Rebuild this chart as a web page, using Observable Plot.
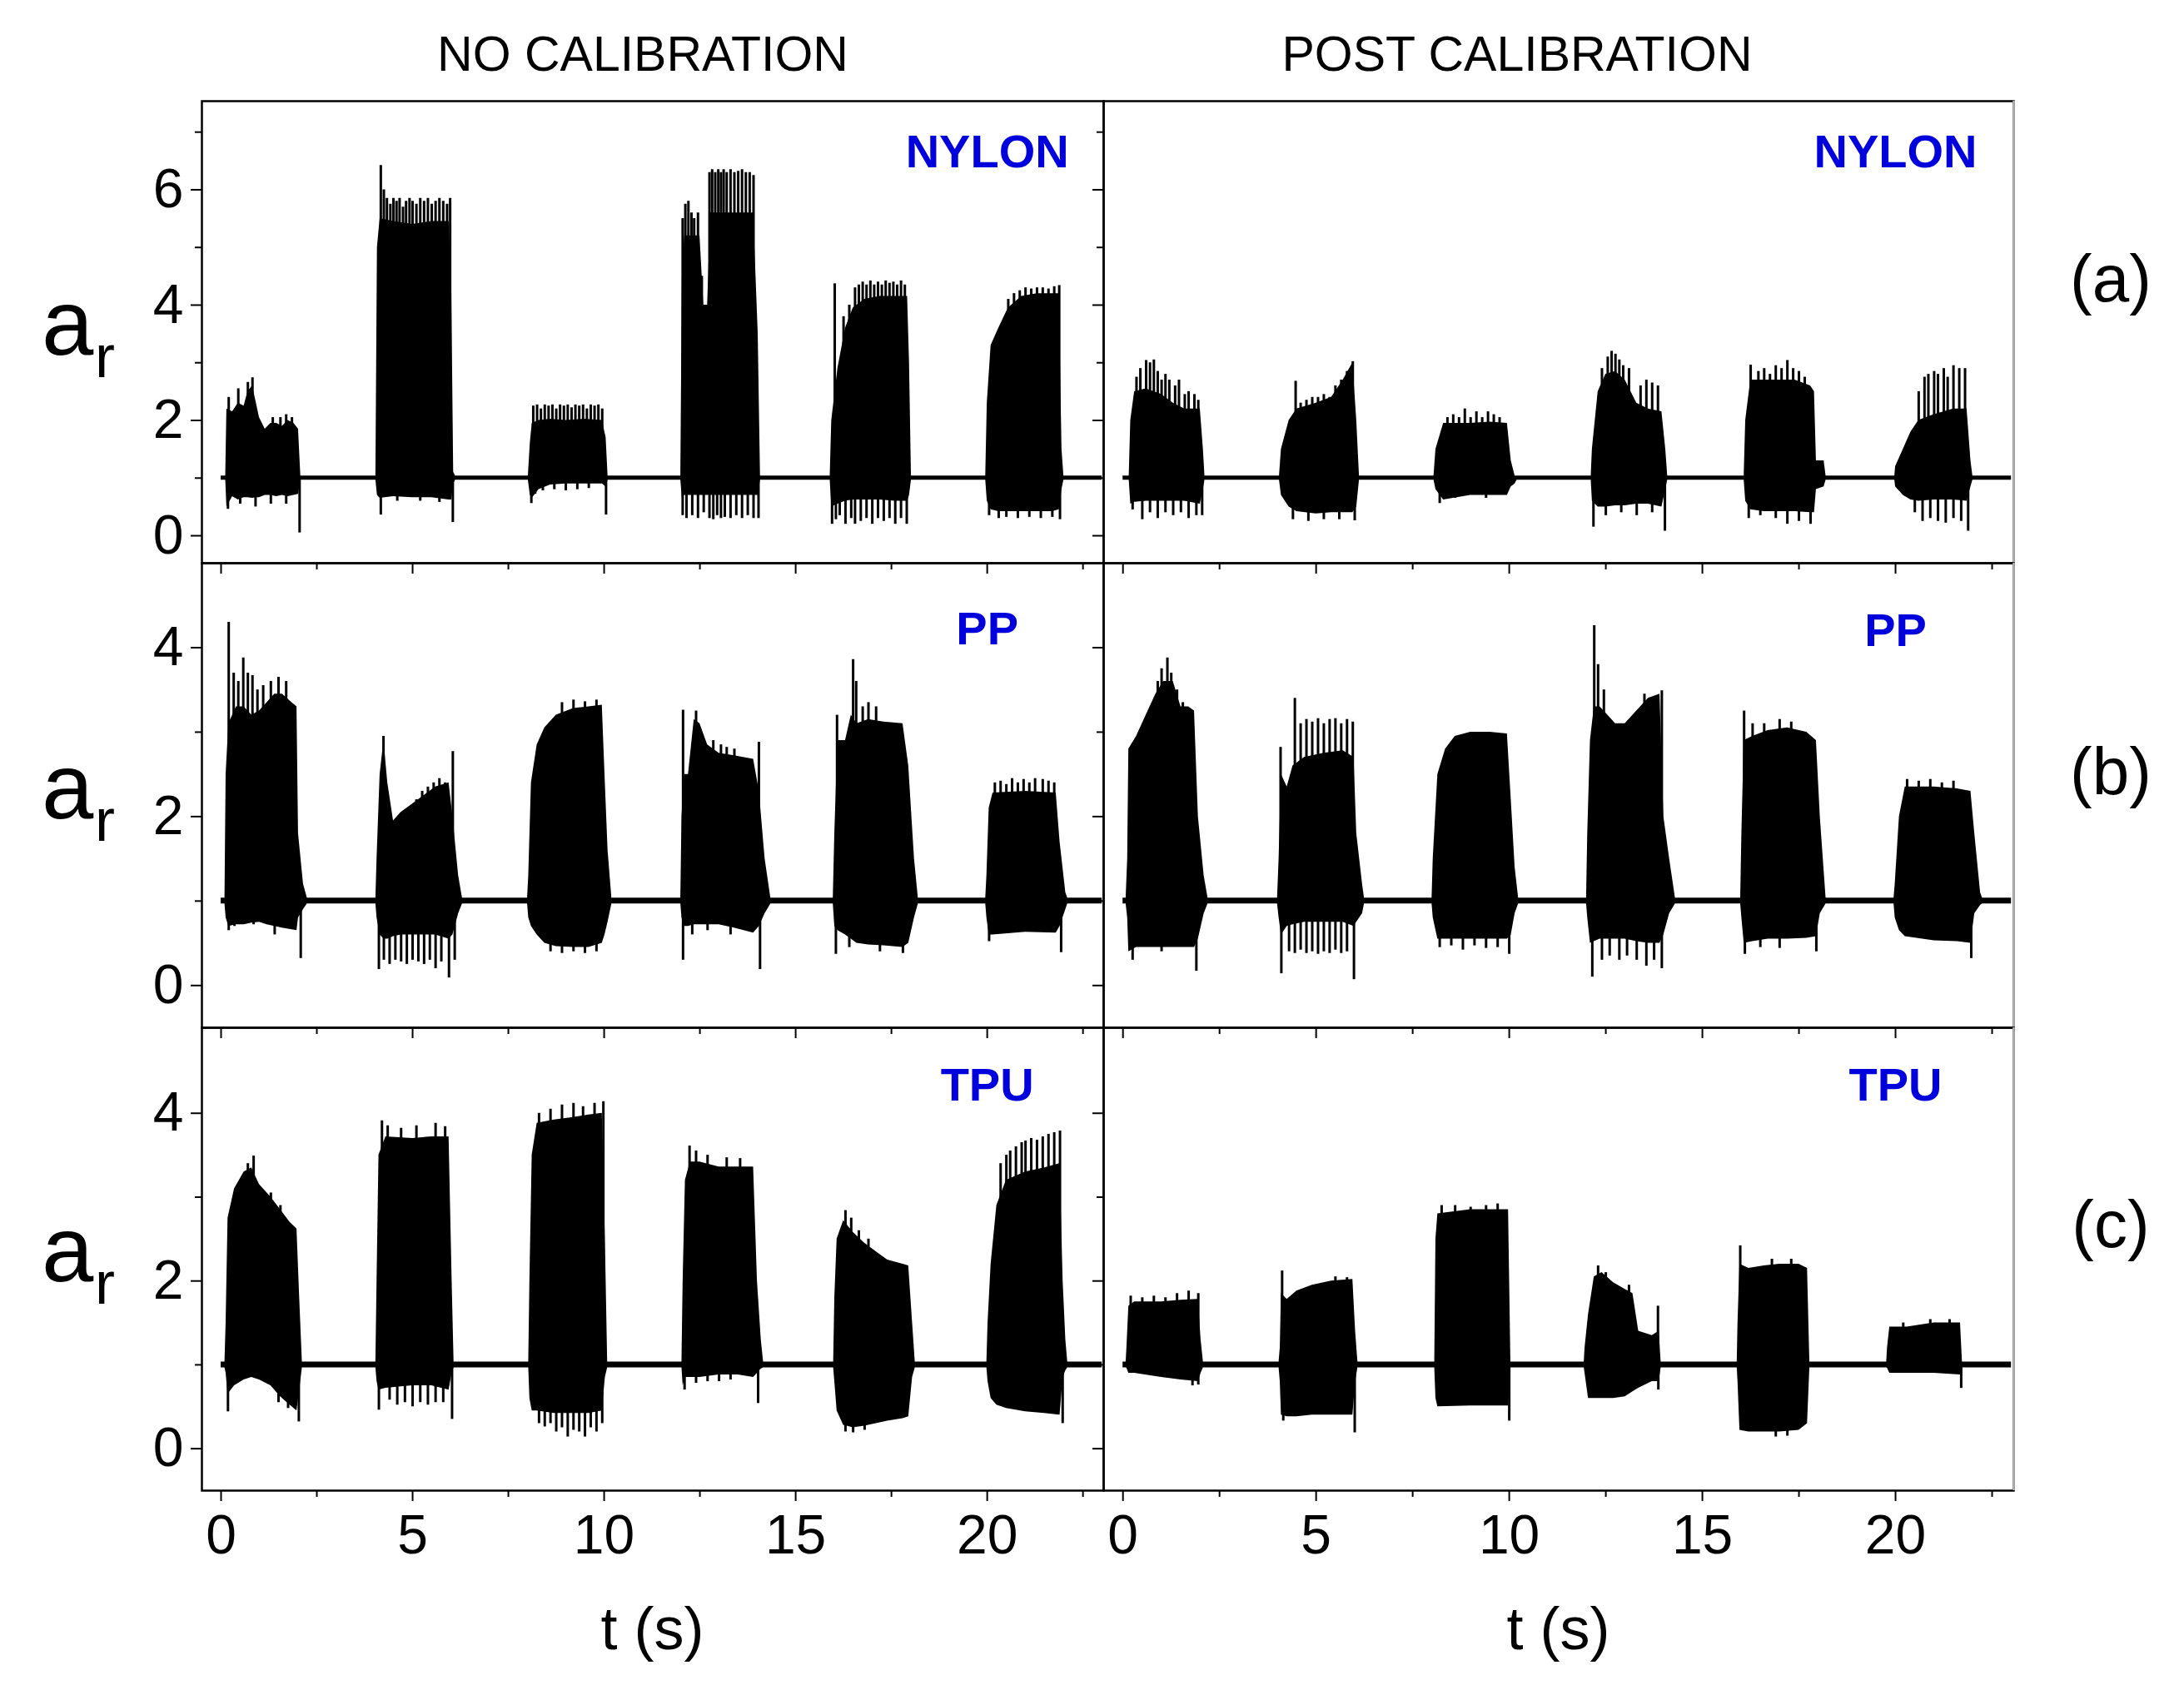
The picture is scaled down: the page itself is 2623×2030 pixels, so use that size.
<!DOCTYPE html>
<html><head><meta charset="utf-8">
<script src="https://cdn.jsdelivr.net/npm/d3@7"></script>
<script src="https://cdn.jsdelivr.net/npm/@observablehq/plot@0.6"></script>
<style>
body{margin:0;background:#fff;}
#fig{position:relative;width:2623px;height:2030px;background:#fff;font-family:"Liberation Sans",Arial,sans-serif;overflow:hidden;}
#fig > svg{position:absolute;}
</style></head><body><div id="fig"></div>
<script>
// ---------------- data ----------------
const baseline = 1;
const xMajorTicks = [0, 5, 10, 15, 20];
const xMinorTicks = [2.5, 7.5, 12.5, 17.5, 22.5];
const yTicksNylon = [0, 2, 4, 6];
const yMinorNylon = [1, 3, 5, 7];
const yTicksPP = [0, 2, 4];
const yMinorPP = [1, 3];
const yTicksTPU = [0, 2, 4];
const yMinorTPU = [1, 3];
const columnTitles = ["NO CALIBRATION", "POST CALIBRATION"];
const materials = ["NYLON", "PP", "TPU"];
const rowTags = ["(a)", "(b)", "(c)"];
const materialLabelT = 20;

// envelope rows: [t, upper, lower]
const nylonNoCalEnv = [
[0,1.035,0.965],
[0.12,1.035,0.965],[0.15,2.2,0.5],[0.3,2.15,0.68],[0.45,2.3,0.62],[0.6,2.25,0.66],[0.7,2.5,0.66],[0.82,2.6,0.65],[0.92,2.3,0.66],[1.0,2.05,0.66],[1.15,1.85,0.7],[1.3,1.95,0.7],[1.45,1.95,0.68],[1.6,1.9,0.7],[1.75,2.0,0.68],[1.9,1.95,0.7],[2.02,1.85,0.72],[2.08,1.035,0.965],
[4.04,1.035,0.965],[4.08,5.0,0.7],[4.15,5.5,0.65],[4.5,5.45,0.68],[5.0,5.4,0.66],[5.5,5.45,0.66],[5.95,5.45,0.62],[6.02,4.3,0.62],[6.07,1.1,0.9],[6.12,1.035,0.965],
[8.02,1.035,0.965],[8.07,1.6,0.7],[8.12,1.95,0.65],[8.3,2.0,0.8],[8.6,2.02,0.88],[9.0,2.0,0.9],[9.5,2.02,0.9],[9.95,2.0,0.9],[10.05,1.7,0.85],[10.1,1.035,0.965],
[12.0,1.035,0.965],[12.04,4.5,0.65],[12.1,5.2,0.7],[12.5,5.2,0.7],[12.6,4.0,0.7],[12.7,4.0,0.7],[12.78,5.6,0.7],[13.9,5.6,0.7],[14.02,3.5,0.7],[14.08,1.035,0.965],
[15.9,1.035,0.965],[15.94,2.0,0.5],[16.1,2.9,0.55],[16.3,3.6,0.6],[16.5,3.95,0.62],[16.8,4.1,0.62],[17.2,4.15,0.62],[17.6,4.15,0.6],[17.92,4.15,0.6],[17.97,3.0,0.7],[18.02,1.035,0.965],
[19.96,1.035,0.965],[20.0,2.3,0.6],[20.1,3.3,0.45],[20.3,3.6,0.42],[20.55,3.95,0.42],[20.9,4.15,0.42],[21.3,4.2,0.42],[21.7,4.2,0.42],[21.88,4.2,0.45],[21.95,1.5,0.8],[22.0,1.035,0.965],
[23,1.035,0.965]];
const nylonNoCalUp = [
[0.2,2.4],[0.45,2.55],[0.7,2.66],[0.82,2.74],[1.35,2.05],[1.55,2.05],[1.7,2.1],[1.85,2.05],
[4.17,6.42],[4.25,6.0],[4.33,5.85],[4.42,5.75],[4.5,5.85],[4.58,5.8],[4.66,5.85],[4.75,5.7],[4.83,5.8],[4.92,5.85],[5.0,5.8],[5.1,5.75],[5.2,5.85],[5.3,5.8],[5.4,5.85],[5.5,5.75],[5.6,5.8],[5.7,5.85],[5.8,5.8],[5.9,5.75],[5.98,5.85],
[8.15,2.25],[8.25,2.27],[8.35,2.2],[8.45,2.27],[8.55,2.25],[8.65,2.27],[8.75,2.2],[8.85,2.27],[8.95,2.25],[9.05,2.27],[9.15,2.22],[9.25,2.27],[9.35,2.25],[9.45,2.27],[9.55,2.2],[9.65,2.27],[9.75,2.25],[9.85,2.27],[9.95,2.2],
[12.05,5.5],[12.12,5.75],[12.2,5.8],[12.28,5.6],[12.35,5.5],[12.45,5.6],[12.55,4.5],[12.75,6.3],[12.82,6.35],[12.9,6.3],[12.98,6.35],[13.05,6.3],[13.12,6.35],[13.2,6.3],[13.3,6.35],[13.4,6.3],[13.5,6.32],[13.6,6.35],[13.7,6.3],[13.8,6.3],[13.9,6.25],
[16.02,4.37],[16.25,3.8],[16.4,4.0],[16.55,4.3],[16.65,4.35],[16.75,4.4],[16.85,4.35],[16.95,4.42],[17.05,4.35],[17.15,4.4],[17.25,4.35],[17.35,4.42],[17.45,4.38],[17.55,4.4],[17.65,4.35],[17.75,4.42],[17.85,4.35],
[20.55,4.1],[20.7,4.2],[20.85,4.25],[21.0,4.3],[21.15,4.28],[21.3,4.3],[21.45,4.3],[21.6,4.28],[21.75,4.32],[21.88,4.34]];
const nylonNoCalDown = [
[0.18,0.46],[0.5,0.55],[0.9,0.5],[1.3,0.55],[1.7,0.55],[2.05,0.05],
[4.17,0.36],[4.6,0.6],[5.2,0.6],[5.7,0.58],[6.05,0.23],
[8.1,0.56],[8.2,0.72],[8.4,0.78],[8.7,0.8],[9.0,0.78],[9.3,0.8],[9.6,0.82],[10.05,0.36],
[12.05,0.35],[12.15,0.3],[12.3,0.35],[12.45,0.3],[12.6,0.4],[12.75,0.3],[12.85,0.28],[12.95,0.35],[13.05,0.3],[13.15,0.32],[13.3,0.3],[13.45,0.35],[13.6,0.3],[13.75,0.35],[13.9,0.3],[14.03,0.3],
[15.95,0.2],[16.05,0.28],[16.15,0.35],[16.3,0.2],[16.45,0.3],[16.55,0.2],[16.7,0.25],[16.85,0.3],[17.0,0.2],[17.15,0.3],[17.3,0.25],[17.45,0.3],[17.6,0.2],[17.75,0.3],[17.9,0.2],
[20.05,0.35],[20.3,0.3],[20.5,0.32],[20.8,0.3],[21.1,0.32],[21.4,0.3],[21.7,0.32],[21.9,0.28]];

const nylonPostEnv = [
[0,1.035,0.965],
[0.16,1.035,0.965],[0.2,2.0,0.55],[0.3,2.5,0.58],[0.6,2.55,0.6],[1.0,2.45,0.6],[1.3,2.3,0.6],[1.6,2.2,0.6],[2.0,2.2,0.55],[2.08,1.5,0.8],[2.12,1.035,0.965],
[4.05,1.035,0.965],[4.1,1.5,0.7],[4.3,2.0,0.5],[4.5,2.2,0.42],[5.0,2.3,0.38],[5.4,2.4,0.4],[5.7,2.7,0.4],[5.95,3.0,0.4],[6.05,2.0,0.5],[6.12,1.035,0.965],
[8.05,1.035,0.965],[8.1,1.5,0.8],[8.3,1.95,0.62],[9.0,1.95,0.7],[9.5,1.97,0.7],[9.95,1.95,0.7],[10.05,1.3,0.85],[10.15,1.035,0.9],[10.2,1.035,0.965],
[12.12,1.035,0.965],[12.15,1.5,0.6],[12.3,2.5,0.5],[12.5,2.8,0.5],[12.75,2.85,0.52],[13.0,2.7,0.52],[13.3,2.3,0.55],[13.6,2.2,0.55],[13.95,2.15,0.5],[14.05,1.5,0.8],[14.1,1.035,0.965],
[16.08,1.035,0.965],[16.12,2.0,0.6],[16.25,2.7,0.45],[16.6,2.7,0.42],[17.0,2.7,0.42],[17.4,2.7,0.42],[17.8,2.6,0.4],[17.9,2.5,0.4],[17.95,1.3,0.8],[18.15,1.3,0.85],[18.2,1.035,0.965],
[19.98,1.035,0.965],[20.0,1.2,0.85],[20.2,1.5,0.7],[20.4,1.8,0.62],[20.6,2.0,0.6],[21.0,2.1,0.62],[21.5,2.2,0.62],[21.85,2.2,0.6],[21.95,1.3,0.85],[22.0,1.035,0.965],
[23,1.035,0.965]];
const nylonPostUp = [
[0.35,2.75],[0.45,2.9],[0.6,3.04],[0.7,3.0],[0.8,3.05],[0.9,2.85],[1.0,2.7],[1.1,2.8],[1.2,2.7],[1.35,2.6],[1.45,2.7],[1.6,2.45],[1.7,2.5],[1.85,2.45],[1.95,2.35],
[4.47,2.68],[4.6,2.3],[4.75,2.35],[4.9,2.4],[5.05,2.4],[5.2,2.45],[5.35,2.4],[5.5,2.6],[5.65,2.7],[5.8,2.85],[5.95,3.02],
[8.4,2.05],[8.55,2.1],[8.7,2.05],[8.85,2.2],[9.0,2.05],[9.15,2.15],[9.3,2.05],[9.45,2.15],[9.6,2.1],[9.75,2.05],
[12.4,2.9],[12.55,3.1],[12.65,3.2],[12.75,3.15],[12.85,3.05],[12.95,2.95],[13.1,2.9],[13.4,2.6],[13.55,2.7],[13.7,2.65],[13.85,2.6],
[16.25,2.96],[16.45,2.85],[16.6,2.9],[16.75,2.8],[16.9,2.95],[17.05,2.9],[17.2,3.04],[17.35,2.9],[17.5,2.85],[17.65,2.75],
[20.6,2.5],[20.75,2.75],[20.85,2.8],[21.0,2.85],[21.1,2.8],[21.25,2.9],[21.35,2.75],[21.5,2.95],[21.65,2.9],[21.8,2.9]];
const nylonPostDown = [
[0.25,0.45],[0.5,0.28],[0.7,0.4],[0.9,0.3],[1.1,0.4],[1.3,0.35],[1.5,0.4],[1.7,0.3],[1.9,0.35],[2.05,0.35],
[4.4,0.28],[4.8,0.25],[5.2,0.28],[5.6,0.28],[6.0,0.26],
[8.2,0.56],[8.6,0.65],[9.4,0.65],
[12.18,0.15],[12.5,0.35],[12.9,0.4],[13.3,0.35],[13.7,0.4],[14.03,0.08],
[16.2,0.3],[16.5,0.35],[16.9,0.3],[17.2,0.2],[17.5,0.25],[17.8,0.2],
[20.5,0.4],[20.7,0.25],[20.9,0.3],[21.1,0.25],[21.3,0.22],[21.5,0.3],[21.7,0.25],[21.88,0.08]];

const ppNoCalEnv = [
[0,1.035,0.965],
[0.1,1.035,0.965],[0.13,2.5,0.8],[0.2,3.1,0.7],[0.4,3.3,0.72],[0.6,3.3,0.72],[0.8,3.2,0.74],[1.0,3.25,0.75],[1.2,3.35,0.72],[1.4,3.45,0.7],[1.6,3.45,0.68],[1.85,3.35,0.66],[1.98,3.3,0.65],[2.02,1.8,0.8],[2.15,1.2,0.9],[2.25,1.035,0.965],
[4.04,1.035,0.965],[4.07,1.5,0.8],[4.15,2.5,0.6],[4.25,2.9,0.55],[4.35,2.4,0.55],[4.5,1.95,0.58],[4.7,2.05,0.6],[5.0,2.15,0.6],[5.3,2.25,0.6],[5.6,2.35,0.6],[5.95,2.4,0.55],[6.05,2.0,0.6],[6.2,1.3,0.85],[6.3,1.035,0.965],
[8.0,1.035,0.965],[8.03,1.3,0.8],[8.1,2.4,0.7],[8.25,2.85,0.6],[8.45,3.05,0.5],[8.75,3.2,0.46],[9.2,3.28,0.45],[9.6,3.3,0.45],[9.95,3.32,0.5],[10.02,2.5,0.6],[10.1,1.6,0.75],[10.2,1.035,0.965],
[12.0,1.035,0.965],[12.03,2.0,0.8],[12.1,2.5,0.7],[12.2,2.5,0.7],[12.35,3.15,0.72],[12.5,3.1,0.72],[12.7,2.85,0.72],[13.0,2.75,0.72],[13.4,2.72,0.68],[13.9,2.68,0.62],[14.05,2.3,0.7],[14.2,1.5,0.85],[14.35,1.035,0.965],
[15.98,1.035,0.965],[16.02,1.8,0.7],[16.1,2.9,0.65],[16.3,2.9,0.6],[16.45,3.2,0.55],[16.6,3.1,0.5],[16.9,3.15,0.48],[17.3,3.12,0.47],[17.8,3.1,0.45],[17.95,2.6,0.5],[18.1,1.5,0.8],[18.2,1.035,0.965],
[19.96,1.035,0.965],[19.99,1.3,0.8],[20.05,2.1,0.6],[20.15,2.28,0.6],[21.0,2.3,0.63],[21.8,2.28,0.62],[21.9,1.7,0.7],[22.05,1.1,0.9],[22.1,1.035,0.965],
[23,1.035,0.965]];
const ppNoCalUp = [
[0.2,4.3],[0.33,3.7],[0.45,3.6],[0.58,3.88],[0.7,3.7],[0.82,3.67],[0.95,3.5],[1.1,3.55],[1.3,3.6],[1.5,3.65],[1.7,3.6],
[4.24,2.95],[5.1,2.2],[5.25,2.3],[5.4,2.35],[5.55,2.4],[5.7,2.45],[5.85,2.4],[6.05,2.77],
[8.9,3.35],[9.2,3.38],[9.5,3.36],[9.8,3.38],
[12.06,3.26],[12.4,3.25],[12.85,2.9],[13.05,2.85],[13.2,2.82],[13.4,2.8],[14.04,2.88],
[16.08,3.2],[16.5,3.86],[16.58,3.6],[16.75,3.3],[16.9,3.35],[17.1,3.3],
[20.2,2.4],[20.35,2.42],[20.5,2.38],[20.65,2.45],[20.8,2.4],[20.95,2.44],[21.1,2.4],[21.25,2.45],[21.45,2.44],[21.6,2.42],[21.75,2.4]];
const ppNoCalDown = [
[0.2,0.65],[0.35,0.7],[0.85,0.72],[1.4,0.6],[2.08,0.32],
[4.12,0.19],[4.25,0.3],[4.4,0.25],[4.55,0.3],[4.7,0.28],[4.85,0.25],[5.0,0.3],[5.15,0.28],[5.3,0.25],[5.45,0.3],[5.6,0.2],[5.75,0.28],[5.95,0.09],[6.1,0.3],
[8.6,0.4],[8.9,0.38],[9.2,0.4],[9.5,0.38],[9.8,0.4],
[12.06,0.3],[12.3,0.6],[12.7,0.65],[13.3,0.6],[14.07,0.19],
[16.05,0.37],[16.4,0.45],[17.2,0.4],[17.8,0.38],
[20.05,0.52],[21.93,0.39]];

const ppPostEnv = [
[0,1.035,0.965],
[0.08,1.035,0.965],[0.12,1.5,0.8],[0.15,2.8,0.4],[0.35,2.95,0.45],[0.6,3.2,0.45],[0.85,3.45,0.45],[1.05,3.6,0.45],[1.3,3.6,0.45],[1.5,3.3,0.45],[1.7,3.3,0.45],[1.85,3.25,0.45],[1.95,2.0,0.55],[2.1,1.3,0.85],[2.2,1.035,0.965],
[4.0,1.035,0.965],[4.04,1.5,0.8],[4.1,2.5,0.6],[4.25,2.35,0.7],[4.4,2.6,0.72],[4.7,2.7,0.75],[5.2,2.75,0.75],[5.7,2.78,0.75],[5.98,2.7,0.7],[6.05,1.8,0.75],[6.2,1.2,0.85],[6.25,1.035,0.965],
[8.0,1.035,0.965],[8.03,1.5,0.8],[8.15,2.5,0.55],[8.35,2.8,0.55],[8.6,2.95,0.55],[9.0,3.0,0.55],[9.5,3.0,0.55],[9.95,2.98,0.55],[10.05,2.2,0.6],[10.15,1.4,0.85],[10.24,1.035,0.965],
[12.0,1.035,0.965],[12.03,1.8,0.8],[12.1,2.9,0.5],[12.2,3.3,0.52],[12.35,3.3,0.55],[12.55,3.2,0.55],[12.75,3.1,0.55],[13.0,3.1,0.55],[13.3,3.25,0.52],[13.6,3.4,0.5],[13.9,3.45,0.5],[14.0,2.0,0.6],[14.15,1.5,0.85],[14.3,1.035,0.965],
[15.99,1.035,0.965],[16.02,1.8,0.8],[16.08,2.9,0.5],[16.3,2.95,0.52],[16.7,3.02,0.55],[17.2,3.05,0.55],[17.7,3.0,0.56],[17.95,2.9,0.58],[18.05,2.0,0.85],[18.2,1.035,0.965],
[19.96,1.035,0.965],[19.99,1.2,0.8],[20.1,2.0,0.65],[20.25,2.35,0.58],[21.0,2.35,0.53],[21.6,2.33,0.52],[21.95,2.3,0.5],[22.05,1.8,0.85],[22.2,1.1,0.95],[22.25,1.035,0.965],
[23,1.035,0.965]];
const ppPostUp = [
[0.9,3.6],[1.0,3.75],[1.15,3.88],[1.25,3.7],[1.4,3.5],[1.55,3.35],
[4.08,2.82],[4.45,3.4],[4.6,3.1],[4.75,3.15],[4.9,3.12],[5.05,3.16],[5.2,3.1],[5.35,3.15],[5.5,3.16],[5.65,3.1],[5.8,3.15],[5.95,3.12],
[12.2,4.26],[12.3,3.8],[12.45,3.5],[13.5,3.45],[13.95,3.49],
[16.08,3.25],[16.3,3.1],[16.6,3.1],[17.0,3.15],[17.3,3.12],
[20.3,2.44],[20.6,2.42],[20.9,2.44],[21.2,2.4],[21.5,2.42]];
const ppPostDown = [
[0.25,0.3],[1.0,0.4],[1.9,0.17],
[4.1,0.14],[4.3,0.4],[4.45,0.38],[4.6,0.42],[4.75,0.38],[4.9,0.4],[5.05,0.37],[5.2,0.4],[5.35,0.38],[5.5,0.42],[5.65,0.38],[5.8,0.4],[5.98,0.07],
[8.2,0.45],[8.5,0.47],[8.8,0.42],[9.1,0.47],[9.4,0.44],[9.7,0.45],[10.0,0.37],
[12.15,0.1],[12.4,0.3],[12.6,0.35],[12.85,0.3],[13.05,0.35],[13.3,0.3],[13.55,0.23],[13.75,0.3],[13.95,0.2],
[16.1,0.37],[16.5,0.45],[17.0,0.44],[17.95,0.4],
[21.96,0.32]];

const tpuNoCalEnv = [
[0,1.035,0.965],
[0.1,1.035,0.965],[0.13,1.5,0.9],[0.18,2.75,0.65],[0.35,3.1,0.75],[0.6,3.3,0.82],[0.8,3.35,0.85],[1.0,3.15,0.82],[1.3,3.0,0.75],[1.55,2.85,0.62],[1.8,2.7,0.52],[1.98,2.62,0.45],[2.05,1.8,0.7],[2.12,1.035,0.965],
[4.04,1.035,0.965],[4.07,2.0,0.8],[4.12,3.5,0.7],[4.3,3.72,0.72],[5.0,3.7,0.75],[5.5,3.72,0.75],[5.95,3.72,0.7],[6.03,2.0,0.9],[6.08,1.035,0.965],
[8.03,1.035,0.965],[8.06,2.0,0.6],[8.12,3.5,0.45],[8.25,3.88,0.45],[8.7,3.92,0.42],[9.2,3.95,0.42],[9.6,3.98,0.42],[9.95,4.0,0.45],[10.03,2.5,0.85],[10.09,1.035,0.965],
[12.03,1.035,0.965],[12.06,2.0,0.75],[12.12,3.2,0.85],[12.25,3.42,0.85],[12.5,3.42,0.85],[13.0,3.36,0.88],[13.5,3.36,0.88],[13.9,3.36,0.85],[14.0,2.0,0.9],[14.1,1.3,0.95],[14.16,1.035,0.965],
[15.99,1.035,0.965],[16.02,1.8,0.8],[16.08,2.5,0.45],[16.25,2.72,0.28],[16.5,2.58,0.25],[16.8,2.45,0.27],[17.1,2.35,0.3],[17.4,2.25,0.33],[17.8,2.2,0.36],[17.95,2.18,0.38],[18.05,1.5,0.85],[18.12,1.035,0.965],
[19.99,1.035,0.965],[20.02,1.5,0.8],[20.1,2.2,0.6],[20.25,2.9,0.52],[20.5,3.2,0.48],[21.0,3.3,0.44],[21.5,3.35,0.42],[21.9,3.4,0.4],[21.98,2.0,0.85],[22.05,1.3,0.93],[22.1,1.035,0.965],
[23,1.035,0.965]];
const tpuNoCalUp = [
[0.7,3.4],[0.85,3.49],[1.3,3.05],[1.55,2.9],
[4.2,3.91],[4.35,3.85],[4.7,3.82],[5.1,3.85],[5.6,3.88],[5.85,3.84],
[8.3,4.0],[8.6,4.05],[8.9,4.1],[9.2,4.12],[9.45,4.08],[9.75,4.12],[9.98,4.14],
[12.23,3.61],[12.4,3.55],[12.7,3.5],[13.2,3.47],[13.55,3.46],
[16.3,2.84],[16.45,2.75],[16.65,2.6],[16.9,2.5],
[20.35,3.4],[20.5,3.5],[20.6,3.55],[20.75,3.6],[20.9,3.65],[21.0,3.67],[21.15,3.7],[21.3,3.68],[21.45,3.72],[21.6,3.75],[21.75,3.77],[21.9,3.79]];
const tpuNoCalDown = [
[0.18,0.44],[1.5,0.55],[1.75,0.48],[2.03,0.32],
[4.12,0.46],[4.4,0.58],[4.6,0.52],[4.8,0.55],[5.0,0.5],[5.2,0.55],[5.4,0.52],[5.6,0.55],[5.8,0.55],[6.03,0.35],
[8.3,0.3],[8.45,0.26],[8.6,0.3],[8.75,0.2],[8.9,0.25],[9.05,0.14],[9.2,0.22],[9.35,0.2],[9.5,0.14],[9.65,0.25],[9.8,0.2],[9.95,0.3],
[12.1,0.7],[12.4,0.78],[12.7,0.8],[13.0,0.8],[13.3,0.82],[14.02,0.54],
[16.3,0.2],[16.5,0.19],[16.8,0.22],
[21.97,0.3]];

const tpuPostEnv = [
[0,1.035,0.965],
[0.08,1.035,0.965],[0.1,1.2,0.96],[0.15,1.7,0.9],[0.3,1.75,0.9],[1.0,1.75,0.85],[1.5,1.77,0.82],[1.95,1.78,0.8],[2.02,1.3,0.9],[2.08,1.035,0.965],
[4.04,1.035,0.965],[4.07,1.2,0.8],[4.1,1.85,0.4],[4.25,1.78,0.38],[4.5,1.88,0.38],[4.9,1.95,0.4],[5.4,2.0,0.4],[5.95,2.02,0.4],[6.02,1.4,0.8],[6.08,1.035,0.965],
[8.07,1.035,0.965],[8.1,2.5,0.6],[8.15,2.8,0.5],[9.0,2.85,0.51],[9.5,2.85,0.51],[9.98,2.85,0.51],[10.04,1.035,0.965],
[11.94,1.035,0.965],[11.96,1.2,0.9],[12.05,1.6,0.6],[12.2,2.05,0.6],[12.4,2.1,0.6],[12.7,1.98,0.6],[13.0,1.9,0.62],[13.2,1.85,0.68],[13.35,1.4,0.72],[13.7,1.35,0.8],[13.88,1.4,0.8],[13.93,1.035,0.965],
[15.9,1.035,0.965],[15.92,1.5,0.8],[15.97,2.2,0.22],[16.2,2.15,0.2],[16.6,2.18,0.2],[17.0,2.2,0.2],[17.5,2.2,0.22],[17.72,2.15,0.3],[17.78,1.035,0.965],
[19.77,1.035,0.965],[19.79,1.2,0.96],[19.85,1.45,0.9],[20.3,1.45,0.9],[21.0,1.5,0.9],[21.68,1.5,0.88],[21.73,1.035,0.965],
[23,1.035,0.965]];
const tpuPostUp = [
[0.2,1.82],[0.5,1.8],[0.8,1.82],[1.1,1.8],[1.4,1.85],[1.7,1.88],[1.95,1.85],
[4.12,2.12],[5.5,2.05],[5.8,2.04],
[8.25,2.9],[8.6,2.9],[9.0,2.88],[9.4,2.9],[9.7,2.92],
[12.3,2.18],[12.5,2.1],[13.1,1.95],[13.85,1.7],
[15.98,2.42],[16.8,2.26],[17.3,2.26],
[20.2,1.5],[20.9,1.54],[21.4,1.54]];
const tpuPostDown = [
[1.8,0.75],[1.95,0.76],
[4.15,0.33],[6.0,0.19],
[10.0,0.33],
[13.86,0.7],
[16.9,0.14],[17.2,0.15],
[21.7,0.72]];

// ---------------- layout ----------------
const FONT = '"Liberation Sans", Arial, sans-serif';
const cols = [
  {left: 242, w: 1083, xDomain: [-0.5, 23.04], showY: true},
  {left: 1325, w: 1093, xDomain: [-0.5, 23.06], showY: false}
];
const rowsLayout = [
  {top: 121, h: 555, yDomain: [-0.476, 7.537], yTicks: yTicksNylon, yMinor: yMinorNylon, labelDy: [40, 40]},
  {top: 676, h: 558, yDomain: [-0.5, 5.0], yTicks: yTicksPP, yMinor: yMinorPP, labelDy: [58, 60]},
  {top: 1234, h: 556, yDomain: [-0.5, 5.02], yTicks: yTicksTPU, yMinor: yMinorTPU, labelDy: [48, 48]}
];
const series = [
  [[nylonNoCalEnv, nylonNoCalUp, nylonNoCalDown], [nylonPostEnv, nylonPostUp, nylonPostDown]],
  [[ppNoCalEnv, ppNoCalUp, ppNoCalDown], [ppPostEnv, ppPostUp, ppPostDown]],
  [[tpuNoCalEnv, tpuNoCalUp, tpuNoCalDown], [tpuPostEnv, tpuPostUp, tpuPostDown]]
];

const fig = document.getElementById("fig");
const blank = () => "";

rowsLayout.forEach((row, ri) => {
  cols.forEach((col, ci) => {
    const [env, up, down] = series[ri][ci];
    const isBottom = ri === rowsLayout.length - 1;
    const mL = 140, mR = 10, mT = 10, mB = isBottom ? 110 : 30;
    const marks = [
      Plot.areaY(env, {x: d => d[0], y1: d => d[2], y2: d => d[1], fill: "#000", curve: "linear"}),
      Plot.ruleX(up, {x: d => d[0], y1: baseline, y2: d => d[1], stroke: "#000", strokeWidth: 3}),
      Plot.ruleX(down, {x: d => d[0], y1: d => d[1], y2: baseline, stroke: "#000", strokeWidth: 3}),
      Plot.frame({stroke: "#000", strokeWidth: 2.5})
    ];
    if (ci === 1) marks.push(Plot.ruleX([col.xDomain[1]], {stroke: "#b8b8b8", strokeWidth: 2.5}));
    marks.push(
      Plot.axisX({ticks: xMajorTicks, tickSize: 13, tickPadding: 16, strokeWidth: 2, tickFormat: isBottom ? (d => d) : blank, label: null, fontSize: 66}),
      Plot.axisX({ticks: xMinorTicks, tickSize: 8, strokeWidth: 2, tickFormat: blank, label: null}),
      Plot.axisY({ticks: row.yTicks, tickSize: 13, tickPadding: 9, strokeWidth: 2, tickFormat: col.showY ? (d => d) : blank, label: null, fontSize: 66}),
      Plot.axisY({ticks: row.yMinor, tickSize: 8, strokeWidth: 2, tickFormat: blank, label: null}),
      Plot.text([{t: materialLabelT, name: materials[ri]}], {x: "t", text: "name", frameAnchor: "top", lineAnchor: "top", dy: row.labelDy[ci], fill: "#0000dd", fontWeight: "bold", fontSize: 56, fontFamily: FONT})
    );
    const svg = Plot.plot({
      width: col.w + mL + mR, height: row.h + mT + mB,
      marginLeft: mL, marginRight: mR, marginTop: mT, marginBottom: mB,
      style: {background: "transparent", overflow: "visible", fontFamily: FONT, fontSize: "66px", color: "#000"},
      x: {domain: col.xDomain, label: null},
      y: {domain: row.yDomain, label: null},
      marks
    });
    svg.style.left = (col.left - mL) + "px";
    svg.style.top = (row.top - mT) + "px";
    fig.appendChild(svg);
  });
});

// ---------------- annotation text ----------------
const NS = "http://www.w3.org/2000/svg";
const ann = document.createElementNS(NS, "svg");
ann.setAttribute("width", 2623); ann.setAttribute("height", 2030);
ann.style.left = "0px"; ann.style.top = "0px"; ann.style.overflow = "visible";
function txt(s, x, y, size, opts = {}) {
  const t = document.createElementNS(NS, "text");
  t.setAttribute("x", x); t.setAttribute("y", y);
  t.setAttribute("font-size", size); t.setAttribute("font-family", FONT);
  t.setAttribute("fill", "#000");
  if (opts.anchor) t.setAttribute("text-anchor", opts.anchor);
  t.textContent = s;
  ann.appendChild(t);
}
txt(columnTitles[0], 772, 85, 59, {anchor: "middle"});
txt(columnTitles[1], 1822, 85, 59, {anchor: "middle"});
const aBase = [426, 983, 1539];
aBase.forEach((b, i) => {
  txt("a", 50, b, 112);
  txt("r", 114, b + 27, 72);
  txt(rowTags[i], 2535, [362, 954, 1498][i], 80, {anchor: "middle"});
});
txt("t (s)", 783.5, 1981, 72, {anchor: "middle"});
txt("t (s)", 1871.5, 1981, 72, {anchor: "middle"});
fig.appendChild(ann);
</script>
</body></html>
